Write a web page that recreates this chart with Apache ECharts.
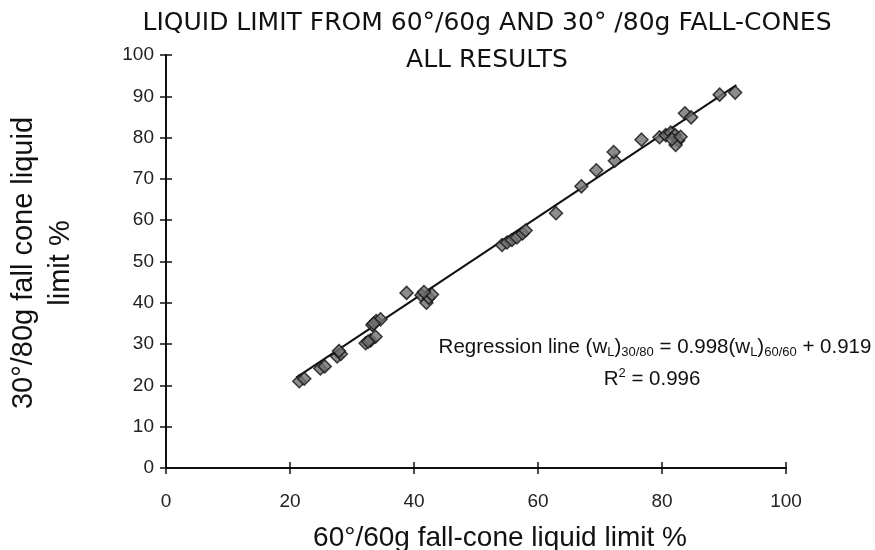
<!DOCTYPE html>
<html>
<head>
<meta charset="utf-8">
<script src="https://cdn.jsdelivr.net/npm/echarts@6/dist/echarts.min.js"></script>
<style>
  html, body { margin: 0; padding: 0; background: #fff; }
  #chart { width: 875px; height: 550px; }
</style>
</head>
<body>
<div id="chart"></div>
<script>
// 60/60 cone liquid limit (x) vs 30/80 cone liquid limit (y)
const wl6060 = [
  21.5, 22.3, 24.9, 25.6, 27.6, 28.2, 27.9,
  32.2, 33.0, 33.8, 32.6, 33.3, 33.9, 34.6, 33.5,
  38.8, 41.2, 42.0, 42.4, 42.9, 41.6,
  54.2, 55.0, 55.8, 56.6, 57.5, 58.0,
  62.9, 67.0, 69.4, 72.4, 72.2, 76.7,
  79.6, 80.6, 81.4, 82.1, 82.6, 82.2, 81.6, 83.0,
  83.7, 84.7, 89.3, 91.8
]
const wl3080 = [
  21.0, 21.6, 24.1, 24.6, 27.0, 27.6, 28.3,
  30.2, 30.9, 31.8, 30.6, 34.6, 35.6, 36.0, 35.0,
  42.4, 41.8, 40.0, 41.2, 42.0, 42.6,
  54.0, 54.6, 55.2, 55.8, 56.8, 57.5,
  61.7, 68.2, 72.1, 74.4, 76.5, 79.5,
  80.1, 80.6, 81.2, 80.6, 79.3, 78.2, 79.6, 80.2,
  85.9, 84.9, 90.4, 90.9
]
// regression line end points
const lineX = [21, 92]
const lineY = [21.9, 92.7]

const xTicks = [0, 20, 40, 60, 80, 100]
const yTicks = [0, 10, 20, 30, 40, 50, 60, 70, 80, 90, 100]

const font = '"Liberation Sans", Arial, sans-serif'
const wide = '"DejaVu Sans", sans-serif'
const ink = '#111'

const chart = echarts.init(document.getElementById('chart'), null, { renderer: 'canvas' })

const baseX = {
  type: 'value', min: 0, max: 100, interval: 20,
  axisLine: { onZero: false, lineStyle: { color: ink, width: 2 } },
  splitLine: { show: false },
}
const baseY = {
  type: 'value', min: 0, max: 100, interval: 10,
  axisLine: { onZero: false, lineStyle: { color: ink, width: 2 } },
  splitLine: { show: false },
}

chart.setOption({
  backgroundColor: '#fff',
  animation: false,
  grid: { left: 166, right: 89, top: 55, bottom: 82 },
  xAxis: [
    {
      ...baseX,
      axisTick: { length: 6, lineStyle: { color: ink, width: 1.5 } },
      axisLabel: {
        margin: 24, fontFamily: font, fontSize: 19, color: '#222',
        formatter: (v) => (xTicks.includes(v) ? String(v) : ''),
      },
    },
    {
      ...baseX, position: 'bottom',
      axisTick: { inside: true, length: 6, lineStyle: { color: ink, width: 1.5 } },
      axisLabel: { show: false },
    },
  ],
  yAxis: [
    {
      ...baseY,
      axisTick: { length: 6, lineStyle: { color: ink, width: 1.5 } },
      axisLabel: {
        margin: 12, fontFamily: font, fontSize: 19, color: '#222',
        formatter: (v) => (yTicks.includes(v) ? String(v) : ''),
      },
    },
    {
      ...baseY, position: 'left',
      axisTick: { inside: true, length: 6, lineStyle: { color: ink, width: 1.5 } },
      axisLabel: { show: false },
    },
  ],
  series: [
    {
      type: 'line',
      data: lineX.map((x, i) => [x, lineY[i]]),
      showSymbol: false,
      lineStyle: { color: ink, width: 2 },
      z: 2,
    },
    {
      type: 'scatter',
      data: wl6060.map((x, i) => [x, wl3080[i]]),
      symbol: 'diamond',
      symbolSize: 13,
      itemStyle: { color: '#707070', borderColor: ink, borderWidth: 1.5 },
      z: 3,
    },
  ],
  graphic: [
    {
      type: 'text', x: 487, y: 23,
      style: {
        text: 'LIQUID LIMIT FROM 60°/60g AND 30° /80g FALL-CONES',
        font: '25px ' + wide, fill: ink, align: 'center', verticalAlign: 'middle',
      },
    },
    {
      type: 'text', x: 487, y: 60,
      style: {
        text: 'ALL RESULTS',
        font: '25px ' + wide, fill: ink, align: 'center', verticalAlign: 'middle',
      },
    },
    {
      type: 'text', x: 42, y: 263, rotation: Math.PI / 2,
      style: {
        text: '30°/80g fall cone liquid\nlimit %',
        font: '29px ' + font, fill: ink, align: 'center', verticalAlign: 'middle',
        lineHeight: 37,
      },
    },
    {
      type: 'text', x: 500, y: 538,
      style: {
        text: '60°/60g fall-cone liquid limit %',
        font: '28px ' + font, fill: ink, align: 'center', verticalAlign: 'middle',
      },
    },
    {
      type: 'text', x: 655, y: 347,
      style: {
        text: '{n|Regression line (w}{s|L}{n|)}{s|30/80}{n| = 0.998(w}{s|L}{n|)}{s|60/60}{n| + 0.919}',
        align: 'center', verticalAlign: 'middle',
        rich: {
          n: { fontFamily: font, fontSize: 20.5, fill: ink, lineHeight: 24, verticalAlign: 'middle' },
          s: { fontFamily: font, fontSize: 13, fill: ink, lineHeight: 24, verticalAlign: 'bottom', padding: [7, 0, 0, 0] },
        },
      },
    },
    {
      type: 'text', x: 652, y: 379,
      style: {
        text: '{n|R}{p|2}{n| = 0.996}',
        align: 'center', verticalAlign: 'middle',
        rich: {
          n: { fontFamily: font, fontSize: 20.5, fill: ink, lineHeight: 24, verticalAlign: 'middle' },
          p: { fontFamily: font, fontSize: 13, fill: ink, lineHeight: 24, verticalAlign: 'top', padding: [0, 0, 7, 0] },
        },
      },
    },
  ],
})
</script>
</body>
</html>
